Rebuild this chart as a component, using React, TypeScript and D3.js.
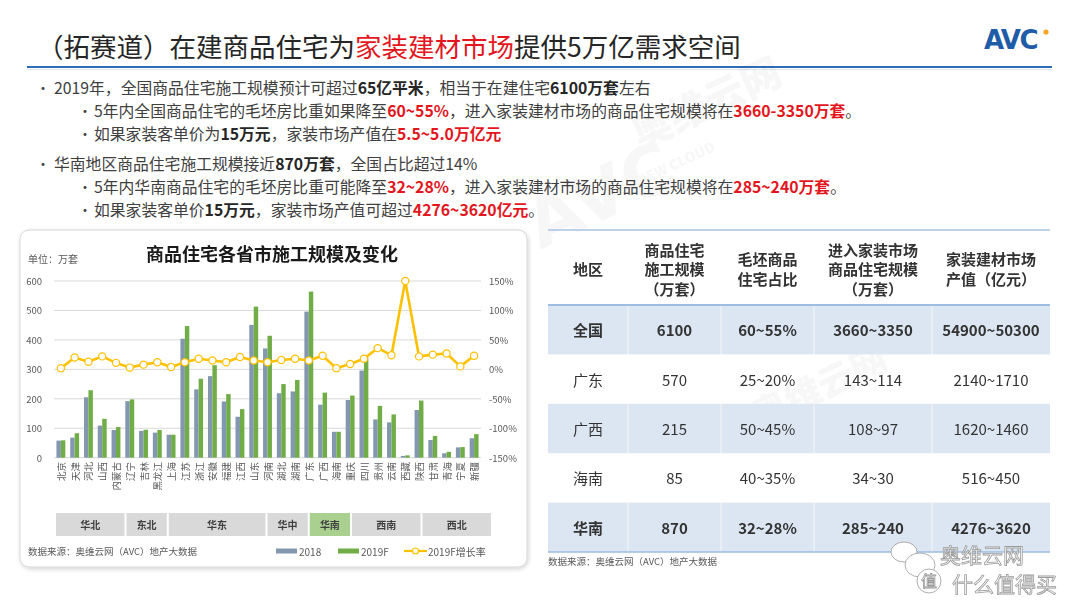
import React from "react";
import * as d3 from "d3";

// 各省市施工规模（万套）
const provinces = ["北京", "天津", "河北", "山西", "内蒙古", "辽宁", "吉林", "黑龙江", "上海", "江苏", "浙江", "安徽", "福建", "江西", "山东", "河南", "湖北", "湖南", "广东", "广西", "海南", "重庆", "四川", "贵州", "云南", "西藏", "陕西", "甘肃", "青海", "宁夏", "新疆"];
const v2018 = [58, 68, 205, 109, 94, 192, 91, 85, 78, 404, 232, 277, 191, 139, 451, 371, 219, 225, 496, 180, 88, 196, 296, 130, 120, 6, 162, 60, 15, 35, 66];
const v2019 = [59, 83, 229, 132, 104, 198, 95, 94, 78, 447, 268, 314, 216, 165, 513, 414, 250, 264, 564, 221, 88, 211, 340, 176, 147, 8, 194, 74, 20, 36, 80];
const growth = [2, 20, 13, 22, 11, 3, 8, 12, 4, 12, 18, 15, 12, 21, 15, 12, 16, 18, 15, 23, 2, 9, 18, 36, 24, 150, 22, 25, 27, 5, 23];
const series = ["2018", "2019F"];

const regions = ["华北", "东北", "华东", "华中", "华南", "西南", "西北"];
const regionCounts = [5, 3, 7, 3, 3, 5, 5];

const leftTicks = [0, 100, 200, 300, 400, 500, 600];
const rightTicks = [150, 100, 50, 0, -50, -100, -150];

// 表格
const tableHeads = [["地区"], ["商品住宅", "施工规模", "（万套）"], ["毛坯商品", "住宅占比"], ["进入家装市场", "商品住宅规模", "（万套）"], ["家装建材市场", "产值（亿元）"]];
const tableRegions = ["全国", "广东", "广西", "海南", "华南"];
const buildScale = ["6100", "570", "215", "85", "870"];
const roughShare = ["60~55%", "25~20%", "50~45%", "40~35%", "32~28%"];
const marketUnits = ["3660~3350", "143~114", "108~97", "34~30", "285~240"];
const marketValue = ["54900~50300", "2140~1710", "1620~1460", "516~450", "4276~3620"];
const boldRows = ["全国", "华南"];

type Seg = [string, "n" | "b" | "r"];
const bullets: { level: number; segs: Seg[] }[] = [
  { level: 0, segs: [["2019年，全国商品住宅施工规模预计可超过", "n"], ["65亿平米", "b"], ["，相当于在建住宅", "n"], ["6100万套", "b"], ["左右", "n"]] },
  { level: 1, segs: [["5年内全国商品住宅的毛坯房比重如果降至", "n"], ["60~55%", "r"], ["，进入家装建材市场的商品住宅规模将在", "n"], ["3660-3350万套", "r"], ["。", "n"]] },
  { level: 1, segs: [["如果家装客单价为", "n"], ["15万元", "b"], ["，家装市场产值在", "n"], ["5.5~5.0万亿元", "r"]] },
  { level: 0, segs: [["华南地区商品住宅施工规模接近", "n"], ["870万套", "b"], ["，全国占比超过14%", "n"]] },
  { level: 1, segs: [["5年内华南商品住宅的毛坯房比重可能降至", "n"], ["32~28%", "r"], ["，进入家装建材市场的商品住宅规模将在", "n"], ["285~240万套", "r"], ["。", "n"]] },
  { level: 1, segs: [["如果家装客单价", "n"], ["15万元", "b"], ["，家装市场产值可超过", "n"], ["4276~3620亿元", "r"], ["。", "n"]] },
];
const bulletY = [87, 110, 133, 163, 186, 209];

const FONT = "'Noto Sans CJK SC', 'Noto Sans', sans-serif";
const RED = "#e3161d";
const TXT = "#404040";
const AXIS = "#595959";
const C2018 = "#8497b0";
const C2019 = "#70ad47";
const CLINE = "#ffc000";

export default function App() {
  const x = d3.scaleBand<string>().domain(provinces).range([54, 481]);
  const xs = d3.scaleBand<string>().domain(series).range([0, x.bandwidth()]).paddingOuter(0.55);
  const y = d3.scaleLinear().domain([0, 600]).range([457.7, 281]);
  const yR = d3.scaleLinear().domain([-150, 150]).range([457.7, 281]);
  const line = d3
    .line<number>()
    .x((_, i) => (x(provinces[i]) as number) + x.bandwidth() / 2)
    .y((d) => yR(d));

  const strip = d3.scaleLinear().domain([0, provinces.length]).range([55, 492]);
  const starts = d3.cumsum([0, ...regionCounts]);

  const rowY = d3.scaleBand<string>().domain(tableRegions).range([305, 552]);
  const colEdges = [548, 628, 721, 814, 932, 1050];
  const colCenter = (i: number) => (colEdges[i] + colEdges[i + 1]) / 2;
  const tableCols = [tableRegions, buildScale, roughShare, marketUnits, marketValue];

  return (
    <div style={{ position: "absolute", left: 0, top: 0 }}>
      <svg width={1080} height={608} style={{ display: "block", fontFamily: FONT }}>
        <defs>
          <filter id="sh" x="-5%" y="-5%" width="110%" height="110%">
            <feDropShadow dx="1" dy="1.5" stdDeviation="2" floodColor="#000" floodOpacity="0.18" />
          </filter>
        </defs>
        <rect width={1080} height={608} fill="#fff" />

        {/* 标题 */}
        <text x={37} y={57} fontSize={26.5} fill="#262626">
          <tspan>（拓赛道）在建商品住宅为</tspan>
          <tspan fill={RED}>家装建材市场</tspan>
          <tspan>提供5万亿需求空间</tspan>
        </text>
        <line x1={27} x2={1052} y1={67} y2={67} stroke="#2e6db4" strokeWidth={2.2} />
        <line x1={27} x2={1052} y1={69.5} y2={69.5} stroke="#dfe6ee" strokeWidth={1} />
        <text x={984} y={49} fontSize={26} fontWeight={900} fill="#1f5ca8" letterSpacing={-1.5} fontFamily="'DejaVu Sans', sans-serif">
          AVC
        </text>
        <circle cx={1046} cy={32} r={2.6} fill="#f5a623" />

        {/* 要点 */}
        {bullets.map((b, i) => (
          <g key={i}>
            <text x={b.level ? 78 : 36} y={bulletY[i]} fontSize={14} fill={TXT} dominantBaseline="central">•</text>
            <text x={b.level ? 94 : 54} y={bulletY[i]} fontSize={15.8} fill={TXT} dominantBaseline="central">
              {b.segs.map(([t, s], j) => (
                <tspan key={j} fill={s === "r" ? RED : s === "b" ? "#262626" : TXT} fontWeight={s === "n" ? 400 : 700}>
                  {t}
                </tspan>
              ))}
            </text>
          </g>
        ))}

        {/* 水印 */}
        <g opacity={0.035} fill="#000" fontWeight={900}>
          <text x={640} y={150} fontSize={40} transform="rotate(-25 640 150)">奥维云网</text>
          <text x={610} y={200} fontSize={14} transform="rotate(-25 610 200)">ALL VIEW CLOUD</text>
          <text x={540} y={250} fontSize={70} transform="rotate(-25 540 250)" fontFamily="'DejaVu Sans', sans-serif">AVC</text>
          <text x={760} y={430} fontSize={36} transform="rotate(-25 760 430)">奥维云网</text>
          <text x={340} y={520} fontSize={36} transform="rotate(-25 340 520)">奥维云网</text>
        </g>

        {/* 图表面板 */}
        <rect x={20} y={230} width={507} height={337} rx={9} fill="#fff" stroke="#d6d6d6" filter="url(#sh)" />
        <text x={272} y={253} fontSize={18} fontWeight={700} fill="#1a1a1a" textAnchor="middle" dominantBaseline="central">
          商品住宅各省市施工规模及变化
        </text>
        <text x={28} y={258} fontSize={10} fill={AXIS} dominantBaseline="central">单位：万套</text>

        {leftTicks.map((t) => (
          <g key={t}>
            <line x1={54} x2={481} y1={y(t)} y2={y(t)} stroke="#d9d9d9" strokeWidth={1} />
            <text x={42} y={y(t)} fontSize={9.5} fill={AXIS} textAnchor="end" dominantBaseline="central">{t}</text>
          </g>
        ))}
        {rightTicks.map((t) => (
          <text key={t} x={489} y={yR(t)} fontSize={9.5} fill={AXIS} dominantBaseline="central">{t}%</text>
        ))}

        {provinces.map((p, i) => (
          <g key={p} transform={`translate(${x(p)},0)`}>
            <rect x={xs("2018")} width={xs.bandwidth()} y={y(v2018[i])} height={y(0) - y(v2018[i])} fill={C2018} />
            <rect x={xs("2019F")} width={xs.bandwidth()} y={y(v2019[i])} height={y(0) - y(v2019[i])} fill={C2019} />
          </g>
        ))}

        <path d={line(growth) || ""} fill="none" stroke={CLINE} strokeWidth={2.6} strokeLinejoin="round" />
        {growth.map((g, i) => (
          <circle key={i} cx={(x(provinces[i]) as number) + x.bandwidth() / 2} cy={yR(g)} r={3.6} fill="#fff" stroke={CLINE} strokeWidth={1.2} />
        ))}

        {provinces.map((p) => {
          const cx = (x(p) as number) + x.bandwidth() / 2;
          return (
            <text key={p} transform={`translate(${cx},462) rotate(-90)`} fontSize={9.5} fill={AXIS} textAnchor="end" dominantBaseline="central">
              {p}
            </text>
          );
        })}

        {regions.map((r, i) => {
          const x0 = strip(starts[i]);
          const x1 = strip(starts[i + 1]);
          return (
            <g key={r}>
              <rect x={x0 + 1} y={513} width={x1 - x0 - 2} height={23} fill={r === "华南" ? "#a9d08e" : "#d9d9d9"} />
              <text x={(x0 + x1) / 2} y={524.5} fontSize={10} fontWeight={700} fill="#404040" textAnchor="middle" dominantBaseline="central">
                {r}
              </text>
            </g>
          );
        })}

        <text x={28} y={551} fontSize={9.5} fill={AXIS} dominantBaseline="central">数据来源：奥维云网（AVC）地产大数据</text>
        <rect x={276} y={548.5} width={21} height={5} fill={C2018} />
        <text x={299} y={551} fontSize={10} fill={AXIS} dominantBaseline="central">2018</text>
        <rect x={338} y={548.5} width={21} height={5} fill={C2019} />
        <text x={361} y={551} fontSize={10} fill={AXIS} dominantBaseline="central">2019F</text>
        <line x1={404} x2={427} y1={551} y2={551} stroke={CLINE} strokeWidth={2.2} />
        <circle cx={415.5} cy={551} r={3} fill="#fff" stroke={CLINE} strokeWidth={1.2} />
        <text x={428} y={551} fontSize={10} fill={AXIS} dominantBaseline="central">2019F增长率</text>

        {/* 表格 */}
        {tableRegions.map((r, i) =>
          i % 2 === 0 ? (
            <g key={r}>
              <rect x={548} y={rowY(r)} width={502} height={rowY.bandwidth()} fill="#dce6f2" />
              {colEdges.slice(1, 5).map((cx) => (
                <line key={cx} x1={cx} x2={cx} y1={rowY(r)} y2={(rowY(r) as number) + rowY.bandwidth()} stroke="#fff" strokeWidth={0.8} opacity={0.8} />
              ))}
            </g>
          ) : null
        )}
        <line x1={548} x2={1050} y1={230} y2={230} stroke="#a9c4e4" strokeWidth={1.5} />
        <line x1={548} x2={1050} y1={305} y2={305} stroke="#9dbde2" strokeWidth={2} />
        <line x1={548} x2={1050} y1={552} y2={552} stroke="#9dbde2" strokeWidth={1.5} />
        {tableHeads.map((lines, i) => {
          const lh = 19.5;
          const top = 268 - ((lines.length - 1) * lh) / 2;
          return (
            <text key={i} x={colCenter(i)} fontSize={15} fontWeight={700} fill="#333" textAnchor="middle" dominantBaseline="central">
              {lines.map((l, j) => (
                <tspan key={j} x={colCenter(i)} y={top + j * lh}>{l}</tspan>
              ))}
            </text>
          );
        })}
        {tableRegions.map((r, ri) =>
          tableCols.map((col, ci) => (
            <text
              key={r + ci}
              x={colCenter(ci)}
              y={(rowY(r) as number) + rowY.bandwidth() / 2}
              fontSize={15}
              fontWeight={boldRows.includes(r) ? 700 : 400}
              fill="#333"
              textAnchor="middle"
              dominantBaseline="central"
            >
              {col[ri]}
            </text>
          ))
        )}
        <text x={548} y={561} fontSize={9.5} fill={AXIS} dominantBaseline="central">数据来源：奥维云网（AVC）地产大数据</text>

        {/* 右下角水印 */}
        <g fill="#fff" stroke="#9a9a9a" strokeWidth={0.8}>
          <ellipse cx={904} cy={552} rx={13} ry={10} />
          <ellipse cx={920} cy={565} rx={15} ry={12} />
          <text x={940} y={563} fontSize={21}>奥维云网</text>
          <circle cx={929} cy={581} r={12} />
          <text x={929} y={587} fontSize={16} textAnchor="middle">值</text>
          <text x={952} y={592} fontSize={21}>什么值得买</text>
        </g>
      </svg>
    </div>
  );
}
